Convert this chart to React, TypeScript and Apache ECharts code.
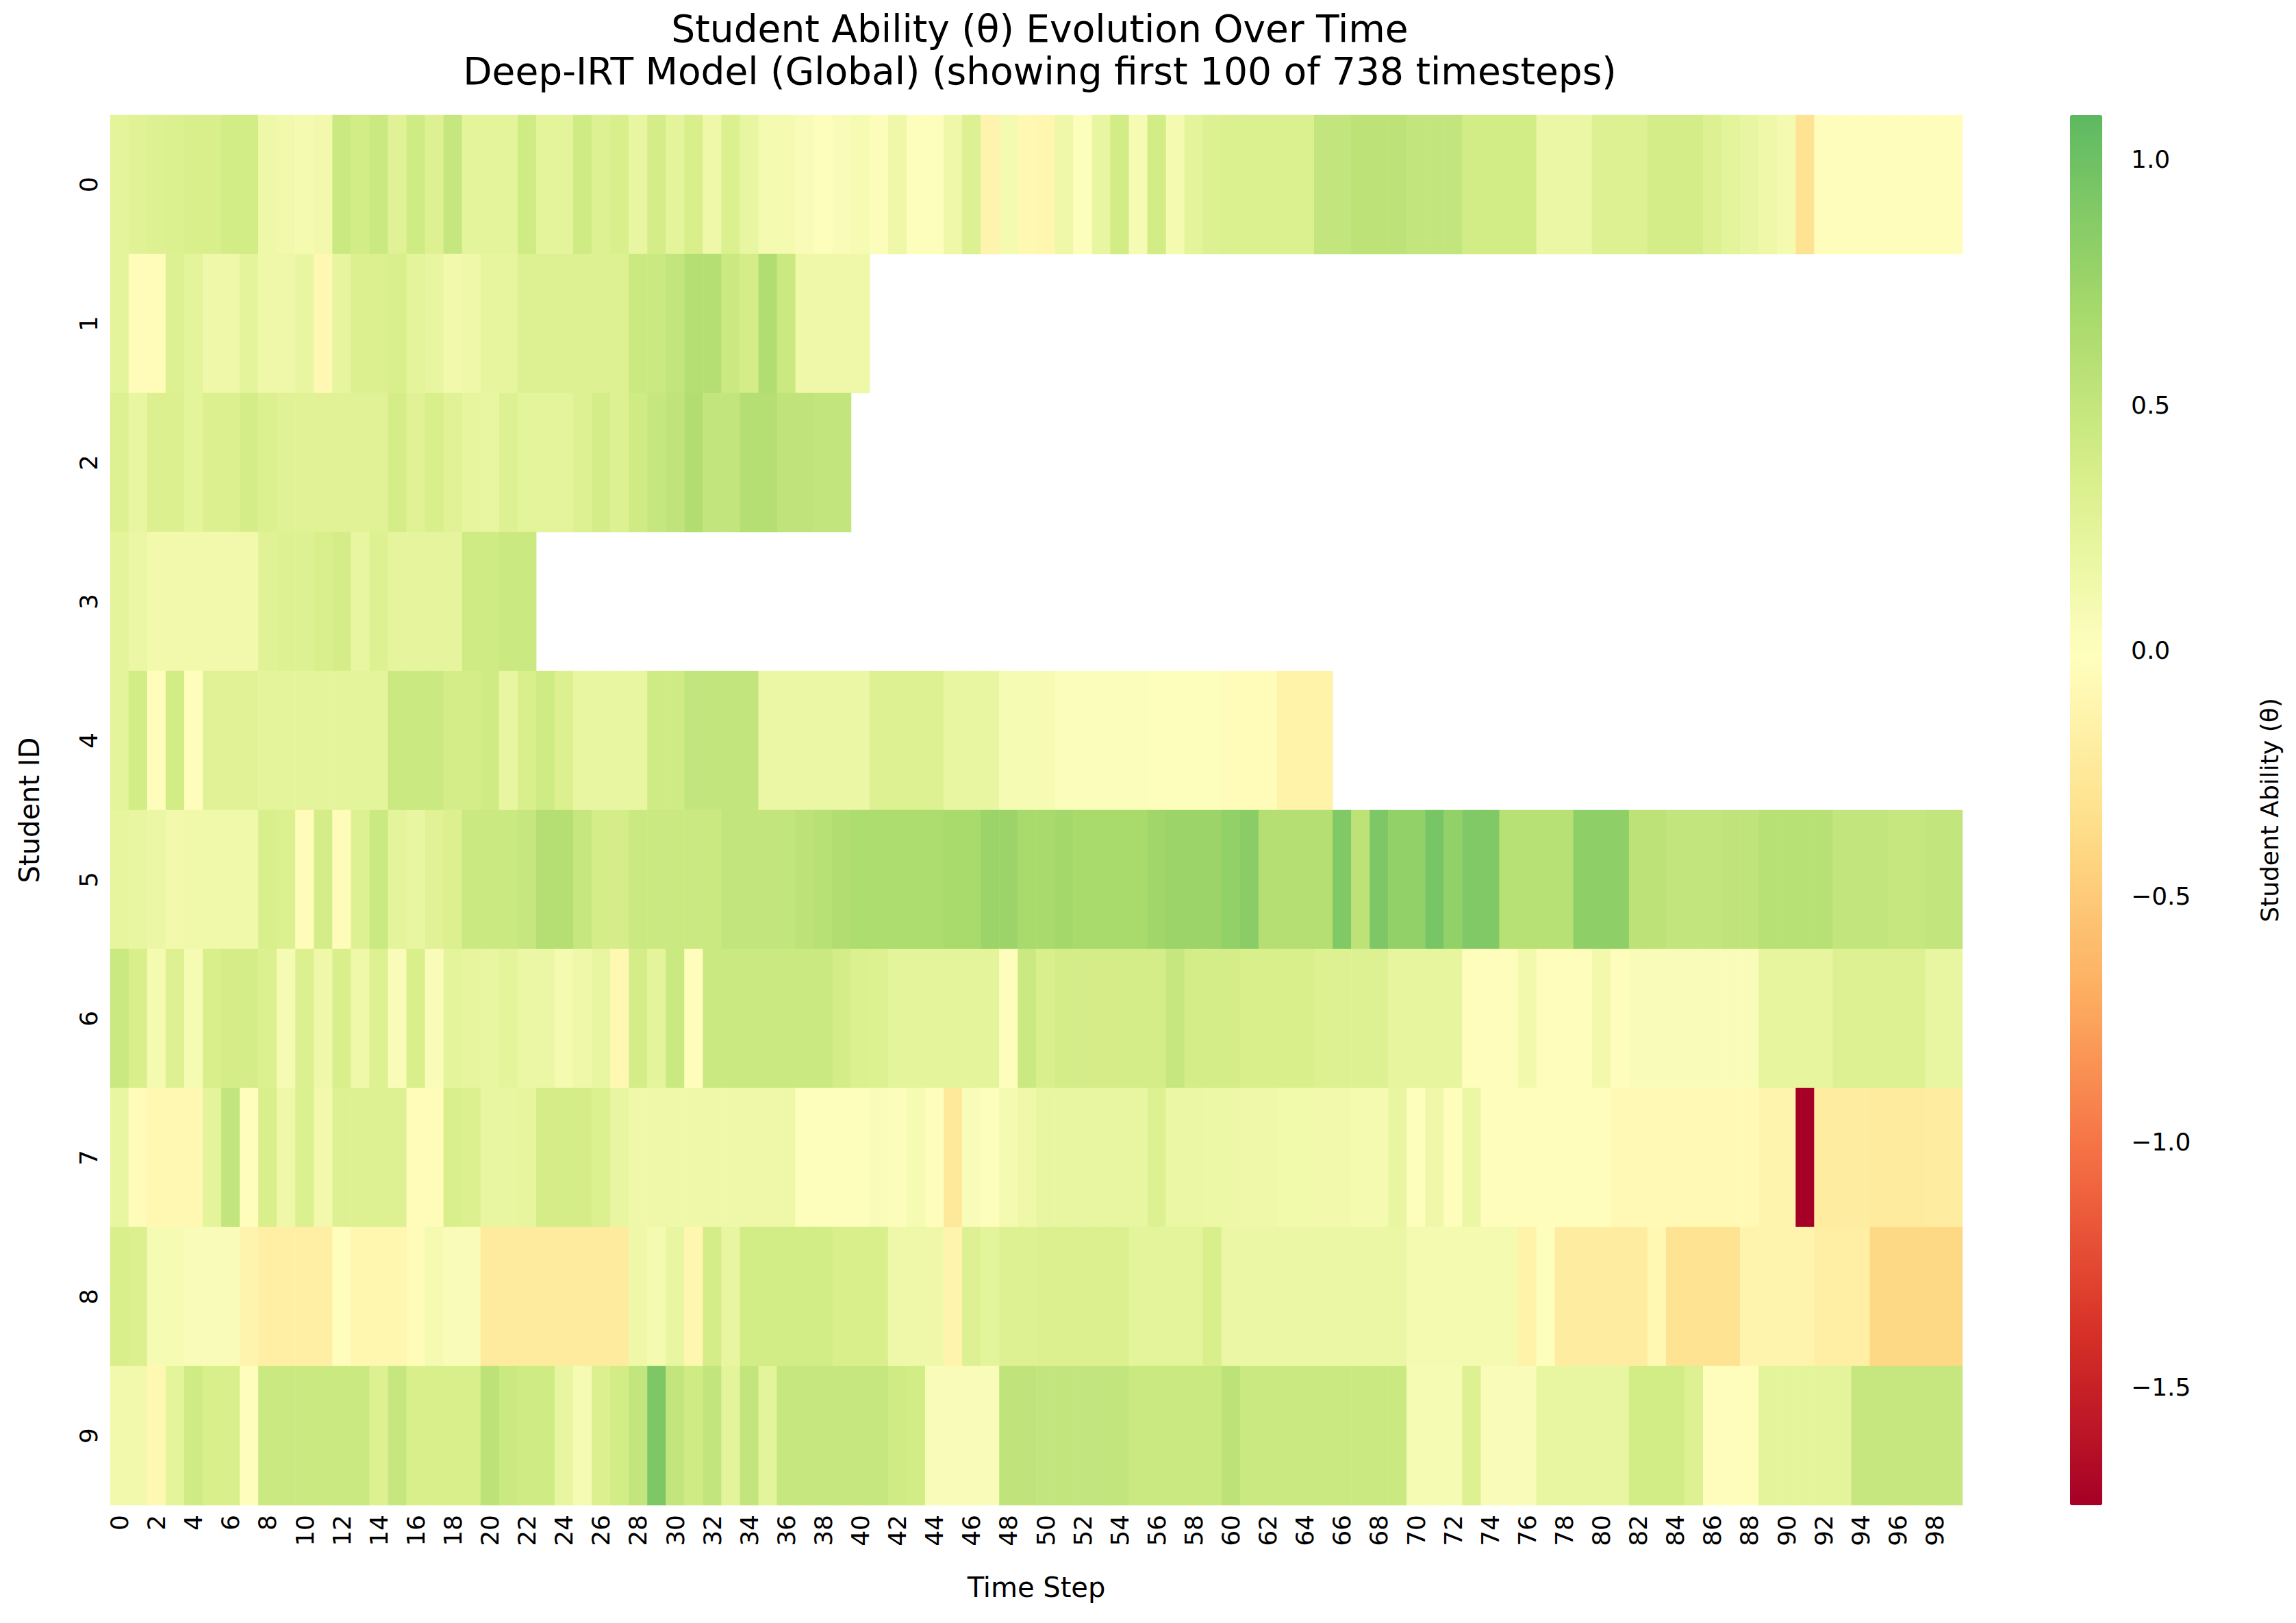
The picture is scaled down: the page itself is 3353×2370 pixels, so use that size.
import React, { useRef, useEffect } from 'react';
import * as echarts from 'echarts';

const timeSteps = Array.from({ length: 100 }, (_, i) => String(i));
const studentIds = ['0', '1', '2', '3', '4', '5', '6', '7', '8', '9'];

const student0 = [
  0.25, 0.28, 0.3, 0.33, 0.35, 0.35, 0.4, 0.4, 0.15, 0.12,
  0.1, 0.12, 0.45, 0.4, 0.45, 0.28, 0.42, 0.3, 0.48, 0.25,
  0.25, 0.25, 0.42, 0.25, 0.25, 0.42, 0.3, 0.35, 0.2, 0.38,
  0.25, 0.35, 0.15, 0.33, 0.2, 0.1, 0.1, 0.05, 0.0, 0.05,
  0.08, 0.02, 0.15, 0.0, 0.0, 0.15, 0.3, -0.12, 0.1, -0.08,
  -0.1, 0.15, 0.0, 0.2, 0.4, 0.08, 0.4, 0.1, 0.25, 0.3,
  0.33, 0.33, 0.33, 0.33, 0.33, 0.5, 0.5, 0.55, 0.55, 0.55,
  0.5, 0.5, 0.5, 0.4, 0.4, 0.4, 0.4, 0.18, 0.18, 0.18,
  0.3, 0.3, 0.3, 0.38, 0.38, 0.38, 0.3, 0.25, 0.2, 0.15,
  0.1, -0.3, -0.03, -0.03, -0.03, -0.03, -0.03, -0.03, -0.03, -0.03,
];
const student1 = [
  0.25, -0.05, -0.05, 0.3, 0.25, 0.15, 0.15, 0.25, 0.15, 0.15,
  0.2, -0.08, 0.22, 0.32, 0.32, 0.35, 0.25, 0.2, 0.12, 0.15,
  0.22, 0.22, 0.3, 0.3, 0.3, 0.3, 0.3, 0.3, 0.45, 0.45,
  0.5, 0.6, 0.6, 0.45, 0.38, 0.62, 0.45, 0.15, 0.15, 0.15,
  0.15,
];
const student2 = [
  0.3, 0.2, 0.32, 0.32, 0.25, 0.32, 0.32, 0.38, 0.32, 0.28,
  0.28, 0.28, 0.28, 0.28, 0.28, 0.38, 0.28, 0.35, 0.28, 0.22,
  0.2, 0.3, 0.25, 0.25, 0.25, 0.3, 0.38, 0.3, 0.42, 0.48,
  0.52, 0.62, 0.5, 0.5, 0.6, 0.6, 0.52, 0.52, 0.5, 0.5,
];
const student3 = [
  0.25, 0.18, 0.12, 0.12, 0.12, 0.12, 0.12, 0.12, 0.28, 0.3,
  0.3, 0.35, 0.38, 0.2, 0.3, 0.23, 0.23, 0.23, 0.23, 0.42,
  0.42, 0.45, 0.45,
];
const student4 = [
  0.25, 0.4, -0.02, 0.4, -0.03, 0.28, 0.28, 0.28, 0.25, 0.25,
  0.25, 0.25, 0.25, 0.25, 0.25, 0.45, 0.45, 0.45, 0.38, 0.38,
  0.42, 0.2, 0.35, 0.42, 0.32, 0.2, 0.2, 0.2, 0.2, 0.42,
  0.42, 0.5, 0.5, 0.5, 0.5, 0.18, 0.18, 0.18, 0.18, 0.18,
  0.18, 0.3, 0.3, 0.3, 0.3, 0.2, 0.2, 0.2, 0.08, 0.08,
  0.08, 0.03, 0.03, 0.03, 0.03, 0.03, 0.0, 0.0, 0.0, 0.0,
  -0.05, -0.05, -0.05, -0.15, -0.15, -0.15,
];
const student5 = [
  0.22, 0.2, 0.18, 0.12, 0.14, 0.14, 0.14, 0.14, 0.35, 0.32,
  -0.05, 0.38, -0.05, 0.3, 0.45, 0.25, 0.2, 0.28, 0.32, 0.45,
  0.45, 0.45, 0.48, 0.6, 0.6, 0.48, 0.38, 0.38, 0.45, 0.45,
  0.45, 0.45, 0.45, 0.5, 0.5, 0.5, 0.5, 0.55, 0.58, 0.62,
  0.65, 0.65, 0.65, 0.65, 0.65, 0.68, 0.68, 0.75, 0.75, 0.68,
  0.68, 0.7, 0.68, 0.68, 0.68, 0.68, 0.72, 0.75, 0.75, 0.75,
  0.8, 0.85, 0.6, 0.6, 0.6, 0.6, 0.9, 0.55, 0.92, 0.8,
  0.8, 0.95, 0.8, 0.9, 0.9, 0.58, 0.58, 0.58, 0.58, 0.82,
  0.82, 0.82, 0.55, 0.55, 0.5, 0.5, 0.5, 0.52, 0.52, 0.58,
  0.58, 0.58, 0.58, 0.5, 0.5, 0.5, 0.48, 0.48, 0.5, 0.5,
];
const student6 = [
  0.45, 0.35, 0.1, 0.3, 0.08, 0.35, 0.38, 0.38, 0.32, 0.08,
  0.32, 0.15, 0.35, 0.15, 0.3, 0.05, 0.35, 0.05, 0.25, 0.22,
  0.2, 0.25, 0.18, 0.18, 0.1, 0.15, 0.2, -0.08, 0.38, 0.25,
  0.45, -0.03, 0.45, 0.45, 0.45, 0.45, 0.45, 0.45, 0.45, 0.38,
  0.33, 0.3, 0.25, 0.25, 0.25, 0.25, 0.25, 0.25, -0.03, 0.45,
  0.35, 0.38, 0.38, 0.38, 0.38, 0.38, 0.38, 0.48, 0.38, 0.38,
  0.38, 0.35, 0.35, 0.35, 0.35, 0.3, 0.3, 0.3, 0.3, 0.22,
  0.22, 0.22, 0.22, -0.02, -0.02, -0.02, 0.12, -0.03, -0.03, -0.03,
  0.12, -0.03, 0.05, 0.05, 0.05, 0.05, 0.05, 0.05, 0.05, 0.22,
  0.22, 0.22, 0.22, 0.3, 0.3, 0.3, 0.3, 0.3, 0.2, 0.2,
];
const student7 = [
  0.2, -0.05, -0.08, -0.08, -0.08, 0.25, 0.5, -0.02, 0.35, 0.15,
  0.33, 0.12, 0.3, 0.3, 0.3, 0.3, -0.05, -0.05, 0.35, 0.32,
  0.2, 0.2, 0.22, 0.38, 0.38, 0.38, 0.33, 0.2, 0.15, 0.15,
  0.15, 0.15, 0.15, 0.15, 0.15, 0.15, 0.15, 0.0, 0.0, 0.0,
  0.0, 0.05, 0.02, 0.08, -0.02, -0.25, 0.05, 0.0, 0.1, 0.15,
  0.2, 0.2, 0.2, 0.2, 0.2, 0.2, 0.3, 0.18, 0.18, 0.16,
  0.16, 0.15, 0.15, 0.13, 0.13, 0.12, 0.12, 0.1, 0.1, 0.2,
  0.0, 0.15, -0.02, 0.18, -0.02, -0.02, -0.02, -0.02, -0.02, -0.02,
  -0.02, -0.07, -0.07, -0.07, -0.07, -0.07, -0.07, -0.07, -0.07, -0.12,
  -0.12, -1.74, -0.2, -0.2, -0.2, -0.22, -0.22, -0.22, -0.2, -0.2,
];
const student8 = [
  0.35, 0.32, 0.08, 0.08, 0.05, 0.05, 0.05, -0.12, -0.18, -0.18,
  -0.18, -0.18, -0.02, -0.1, -0.1, -0.1, -0.05, 0.1, 0.05, 0.05,
  -0.22, -0.22, -0.22, -0.22, -0.22, -0.22, -0.22, -0.22, 0.15, 0.1,
  0.2, -0.1, 0.38, 0.2, 0.4, 0.4, 0.4, 0.4, 0.4, 0.35,
  0.35, 0.35, 0.15, 0.15, 0.15, -0.12, 0.3, 0.25, 0.3, 0.3,
  0.32, 0.32, 0.32, 0.32, 0.32, 0.25, 0.25, 0.25, 0.25, 0.35,
  0.18, 0.18, 0.18, 0.18, 0.18, 0.18, 0.18, 0.18, 0.18, 0.18,
  0.1, 0.1, 0.1, 0.1, 0.1, 0.1, -0.15, 0.0, -0.2, -0.2,
  -0.2, -0.2, -0.2, -0.08, -0.3, -0.3, -0.3, -0.3, -0.12, -0.12,
  -0.12, -0.12, -0.18, -0.18, -0.18, -0.4, -0.4, -0.4, -0.4, -0.4,
];
const student9 = [
  0.12, 0.12, -0.08, 0.25, 0.42, 0.35, 0.35, -0.02, 0.45, 0.45,
  0.45, 0.45, 0.45, 0.45, 0.3, 0.48, 0.35, 0.35, 0.35, 0.35,
  0.55, 0.45, 0.42, 0.42, 0.2, 0.08, 0.32, 0.4, 0.5, 0.92,
  0.5, 0.42, 0.5, 0.25, 0.5, 0.25, 0.48, 0.48, 0.48, 0.48,
  0.48, 0.48, 0.42, 0.4, 0.05, 0.05, 0.05, 0.05, 0.52, 0.52,
  0.5, 0.5, 0.5, 0.5, 0.5, 0.45, 0.45, 0.45, 0.45, 0.45,
  0.55, 0.45, 0.45, 0.45, 0.45, 0.45, 0.45, 0.45, 0.45, 0.45,
  0.08, 0.08, 0.08, 0.3, 0.05, 0.05, 0.05, 0.2, 0.2, 0.2,
  0.2, 0.2, 0.4, 0.4, 0.4, 0.3, -0.03, -0.03, -0.03, 0.25,
  0.25, 0.25, 0.25, 0.25, 0.48, 0.48, 0.48, 0.48, 0.48, 0.48,
];
const students = [student0, student1, student2, student3, student4, student5, student6, student7, student8, student9];

const colorbarTicks = [-1.5, -1.0, -0.5, 0.0, 0.5, 1.0];
const vmin = -1.74;
const vmax = 1.09;

// RdYlGn, centred on 0 like seaborn's center=0
const rdylgn = ['#a50026', '#d73027', '#f46d43', '#fdae61', '#fee08b', '#ffffbf', '#d9ef8b', '#a6d96a', '#66bd63', '#1a9850', '#006837'];
const hex = (c: string) => [1, 3, 5].map((i) => parseInt(c.slice(i, i + 2), 16));
function cmap(p: number) {
  const t = Math.max(0, Math.min(1, p)) * 10;
  const i = Math.min(9, Math.floor(t));
  const a = hex(rdylgn[i]);
  const b = hex(rdylgn[i + 1]);
  const f = t - i;
  return 'rgb(' + a.map((v, k) => Math.round(v + (b[k] - v) * f)).join(',') + ')';
}
const vrange = Math.max(vmax, -vmin);
const scaleColors = Array.from({ length: 60 }, (_, i) => {
  const v = vmin + ((vmax - vmin) * i) / 59;
  return cmap((v + vrange) / (2 * vrange));
});

const fmt = (v: number) => (v < 0 ? '\u2212' + Math.abs(v).toFixed(1) : v.toFixed(1));

// plot area (px)
const plotLeft = 161;
const plotTop = 168;
const plotW = 2705;
const plotH = 2030;
const cbLeft = 3049;
const cbW = 47;

const App: React.FC = () => {
  const chartRef = useRef<HTMLDivElement>(null);

  useEffect(() => {
    if (!chartRef.current) return;
    document.body.style.margin = '0';
    const chart = echarts.init(chartRef.current, undefined, { renderer: 'svg' });

    const cells: number[][] = [];
    students.forEach((row, s) => row.forEach((v, t) => cells.push([t, s, v])));

    const font = 'DejaVu Sans';
    chart.setOption({
      animation: false,
      backgroundColor: '#ffffff',
      textStyle: { fontFamily: font },
      title: {
        text: 'Student Ability (θ) Evolution Over Time\nDeep-IRT Model (Global) (showing first 100 of 738 timesteps)',
        left: plotLeft + plotW / 2,
        top: 6,
        textAlign: 'center',
        textStyle: { fontFamily: font, fontSize: 55, fontWeight: 'normal', color: '#000', lineHeight: 62 },
      },
      grid: [
        { left: plotLeft, top: plotTop, width: plotW, height: plotH },
        { left: cbLeft, top: plotTop, width: cbW, height: plotH },
      ],
      xAxis: [
        {
          type: 'category',
          data: timeSteps,
          gridIndex: 0,
          name: 'Time Step',
          nameLocation: 'middle',
          nameGap: 100,
          nameTextStyle: { fontSize: 40, color: '#000' },
          axisLine: { show: false },
          axisTick: { interval: 1, alignWithLabel: true, length: 10, lineStyle: { color: '#000', width: 2.4 } },
          axisLabel: { interval: 1, rotate: 90, fontSize: 36, color: '#000', margin: 14 },
          splitLine: { show: false },
        },
        { type: 'value', gridIndex: 1, show: false, min: 0, max: 1 },
      ],
      yAxis: [
        {
          type: 'category',
          data: studentIds,
          gridIndex: 0,
          inverse: true,
          name: 'Student ID',
          nameLocation: 'middle',
          nameGap: 98,
          nameTextStyle: { fontSize: 40, color: '#000' },
          axisLine: { show: false },
          axisTick: { alignWithLabel: true, length: 10, lineStyle: { color: '#000', width: 2.4 } },
          axisLabel: { rotate: 90, fontSize: 36, color: '#000', margin: 14 },
        },
        {
          type: 'value',
          gridIndex: 1,
          position: 'right',
          min: vmin,
          max: vmax,
          name: 'Student Ability (θ)',
          nameLocation: 'middle',
          nameRotate: 90,
          nameGap: 200,
          nameTextStyle: { fontSize: 36, color: '#000' },
          axisLine: { show: false },
          splitLine: { show: false },
          axisTick: { show: true, customValues: colorbarTicks, length: 10, lineStyle: { color: '#000', width: 2.4 } },
          axisLabel: { customValues: colorbarTicks, fontSize: 36, color: '#000', margin: 16, formatter: (v: number) => fmt(v) },
        },
      ],
      visualMap: {
        type: 'continuous',
        min: vmin,
        max: vmax,
        seriesIndex: 0,
        calculable: false,
        left: cbLeft - 26,
        top: plotTop,
        padding: 0,
        itemWidth: cbW,
        itemHeight: plotH,
        text: null,
        showLabel: false,
        inRange: { color: scaleColors },
        textStyle: { color: 'rgba(0,0,0,0)' },
      },
      series: [
        {
          type: 'heatmap',
          xAxisIndex: 0,
          yAxisIndex: 0,
          data: cells,
          itemStyle: { borderWidth: 0 },
          emphasis: { disabled: true },
        },
        {
          type: 'line',
          xAxisIndex: 1,
          yAxisIndex: 1,
          data: [],
          silent: true,
        },
      ],
    });

    return () => {
      chart.dispose();
    };
  }, []);

  return <div ref={chartRef} style={{ width: '3353px', height: '2370px' }} />;
};

export default App;
